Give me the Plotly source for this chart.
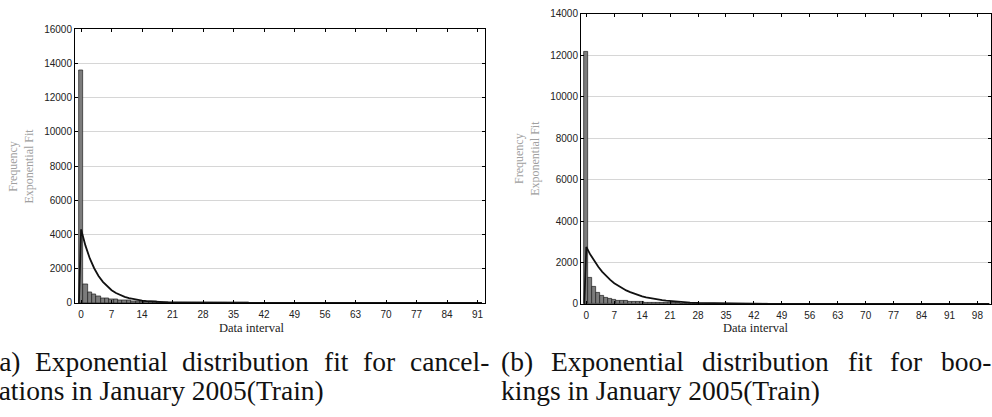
import plotly.graph_objects as go

W, H = 992, 417

# ---------------- data ----------------
interval_a = list(range(0, 41))
freq_a = [13600, 1080, 630, 480, 360, 290, 250, 215, 190, 170, 150, 135, 120, 105, 95,
          85, 75, 68, 60, 55, 50, 45, 40, 36, 32, 28, 25, 22, 20, 18, 16, 14, 12, 11,
          10, 9, 8, 7, 6, 5, 5]
fit_x_a = [-0.5, 0, 1, 2, 3, 4, 5, 6, 7, 8, 9, 10, 11, 12, 13, 14, 15, 16, 17, 18, 19, 20,
           22, 24, 26, 28, 30, 35, 40, 50, 60, 70, 80, 92]
fit_y_a = [0, 4300, 3350, 2600, 2030, 1580, 1230, 960, 745, 580, 450, 350, 275, 215, 165,
           130, 100, 78, 60, 47, 37, 29, 17, 10, 6, 4, 2, 1, 0, 0, 0, 0, 0, 0]

interval_b = list(range(0, 46))
freq_b = [12150, 1257, 820, 550, 395, 300, 240, 200, 170, 150, 135, 120, 105, 95, 85, 78,
          70, 62, 55, 50, 45, 40, 36, 32, 28, 25, 22, 20, 18, 16, 14, 12, 11, 10, 9, 8, 7,
          6, 5, 5, 4, 4, 3, 3, 2, 2]
fit_x_b = [-0.5, 0, 1, 2, 3, 4, 5, 6, 7, 8, 9, 10, 11, 12, 13, 14, 15, 16, 17, 18, 19, 20,
           22, 24, 26, 28, 30, 35, 40, 45, 50, 60, 70, 80, 90, 101]
fit_y_b = [0, 2750, 2380, 2060, 1790, 1550, 1340, 1160, 1000, 870, 755, 650, 565, 490, 425,
           365, 318, 275, 238, 206, 178, 155, 115, 87, 65, 49, 37, 18, 9, 4, 2, 0, 0, 0, 0, 0]

xticks_a = list(range(0, 92, 7))
xticks_b = list(range(0, 99, 7))
yticks_a = [0, 2000, 4000, 6000, 8000, 10000, 12000, 14000, 16000]
ytext_a = ["0", "2000", "4000", "6000", "8000", "10000", "12000", "14000", "16000"]
yticks_b = [0, 2000, 4000, 6000, 8000, 10000, 12000, 14000]
ytext_b = ["0", "2000", "4000", "6000", "8000", "10000", "12000", "14000"]

ytitle = "Frequency<br>Exponential Fit"
xtitle = "Data interval"
caption_a1 = ["(a)", "Exponential", "distribution", "fit", "for", "cancel-"]
caption_a2 = "lations in January 2005(Train)"
caption_b1 = ["(b)", "Exponential", "distribution", "fit", "for", "boo-"]
caption_b2 = "kings in January 2005(Train)"

# ---------------- figure ----------------
fig = go.Figure()
bar_style = dict(marker=dict(color="#7c7c7c", line=dict(color="#1e1e1e", width=0.7)),
                 width=1, showlegend=False, hoverinfo="skip")
line_style = dict(mode="lines", line=dict(color="#111111", width=1.8), showlegend=False)

fig.add_trace(go.Bar(x=interval_a, y=freq_a, xaxis="x", yaxis="y", **bar_style))
fig.add_trace(go.Scatter(x=fit_x_a, y=fit_y_a, xaxis="x", yaxis="y", **line_style))
fig.add_trace(go.Bar(x=interval_b, y=freq_b, xaxis="x2", yaxis="y2", **bar_style))
fig.add_trace(go.Scatter(x=fit_x_b, y=fit_y_b, xaxis="x2", yaxis="y2", **line_style))

tickfont = dict(family="Liberation Sans", size=10, color="#222222")
common_x = dict(ticks="inside", ticklen=3, tickcolor="black", showline=True, linecolor="black",
                linewidth=1, mirror="ticks", showgrid=False, zeroline=False, tickfont=tickfont,
                ticklabelstandoff=2)
common_y = dict(ticks="inside", ticklen=3, tickcolor="black", showline=True, linecolor="black",
                linewidth=1, mirror="ticks", showgrid=True, gridcolor="#d6d6d6", gridwidth=1,
                zeroline=False, tickfont=tickfont)


def px(x):
    return x / W


def py(y):
    return 1 - y / H


fig.update_layout(
    width=W, height=H, margin=dict(l=0, r=0, t=0, b=0),
    paper_bgcolor="white", plot_bgcolor="white", bargap=0,
    xaxis=dict(domain=[px(75), px(485)], range=[-1.4, 92.7], tickvals=xticks_a,
               anchor="y", **common_x),
    yaxis=dict(domain=[py(306), py(25)], range=[0, 16000], tickvals=yticks_a,
               ticktext=ytext_a, anchor="x", **common_y),
    xaxis2=dict(domain=[px(581), px(991)], range=[-1.33, 101.4], tickvals=xticks_b,
                anchor="y2", **common_x),
    yaxis2=dict(domain=[py(307), py(9)], range=[0, 14000], tickvals=yticks_b,
                ticktext=ytext_b, anchor="x2", **common_y),
)

ann = []
ytfont = dict(family="Liberation Serif", size=12, color="#a0a0a0")
xtfont = dict(family="Liberation Serif", size=12.5, color="#222222")
ann.append(dict(text=ytitle, x=px(21), y=py(166), textangle=-90, font=ytfont))
ann.append(dict(text=ytitle, x=px(527), y=py(158), textangle=-90, font=ytfont))
ann.append(dict(text=xtitle, x=px(251), y=py(332), font=xtfont))
ann.append(dict(text=xtitle, x=px(755), y=py(332), font=xtfont))

# caption text, justified first lines
CAP = 27.5
cw = {"(": 333, ")": 333, "a": 444, "b": 500, "c": 444, "d": 500, "e": 444, "f": 333,
      "i": 278, "l": 278, "n": 500, "o": 500, "p": 500, "r": 333, "s": 389, "t": 278,
      "u": 500, "x": 500, "E": 611, "-": 333}


def wlen(s):
    return sum(cw.get(c, 500) for c in s) / 1000 * CAP


capfont = dict(family="Liberation Serif", size=CAP, color="#111111")


def justified(words, left, right, ycenter):
    total = sum(wlen(w) for w in words)
    gap = (right - left - total) / (len(words) - 1)
    xcur = left
    for w in words:
        ann.append(dict(text=w, x=px(xcur), y=py(ycenter), xanchor="left",
                        font=capfont, borderpad=0))
        xcur += wlen(w) + gap


justified(caption_a1, -11.5, 488, 366)
justified(caption_b1, 500, 990, 366)
ann.append(dict(text=caption_a2, x=px(-10.5), y=py(396), xanchor="left",
                font=capfont, borderpad=0))
ann.append(dict(text=caption_b2, x=px(500), y=py(396), xanchor="left",
                font=capfont, borderpad=0))

for a in ann:
    a.setdefault("xref", "paper")
    a.setdefault("yref", "paper")
    a.setdefault("showarrow", False)
    a.setdefault("xanchor", "center")
    a.setdefault("yanchor", "middle")
fig.update_layout(annotations=ann)

fig.write_html("out.html", config={"displayModeBar": False},
               post_script="document.body.style.margin='0';document.body.style.overflow='hidden';")
